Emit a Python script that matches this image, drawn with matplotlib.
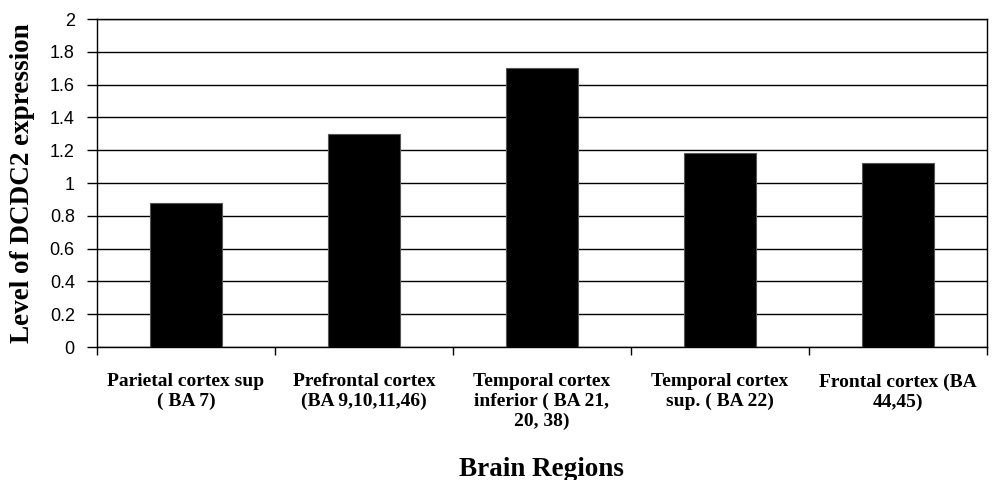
import matplotlib
matplotlib.use("Agg")
import matplotlib.pyplot as plt
import numpy as np

categories = [
    "Parietal cortex sup\n( BA 7)",
    "Prefrontal cortex\n(BA 9,10,11,46)",
    "Temporal cortex\ninferior ( BA 21,\n20, 38)",
    "Temporal cortex\nsup. ( BA 22)",
    "Frontal cortex (BA\n44,45)",
]
values = [0.88, 1.30, 1.70, 1.18, 1.12]
yticks = [0, 0.2, 0.4, 0.6, 0.8, 1, 1.2, 1.4, 1.6, 1.8, 2]
ytick_labels = ["0", "0.2", "0.4", "0.6", "0.8", "1", "1.2", "1.4", "1.6", "1.8", "2"]

fig = plt.figure(figsize=(9.95, 4.8), dpi=100)
ax = fig.add_axes([97/995, 1 - 347/480, (987-97)/995, (347-19)/480])

x = np.arange(len(categories))
ax.set_axisbelow(True)
ax.yaxis.grid(True, color="black", linewidth=1.0)
ax.bar(x, values, width=0.4, color="black", edgecolor="#555555", linewidth=0.8, zorder=3)

ax.set_xlim(-0.5, len(categories) - 0.5)
ax.set_ylim(0, 2)
ax.set_yticks(yticks)
ax.set_yticklabels(ytick_labels, fontfamily="Liberation Sans", fontsize=13)
ax.tick_params(axis="y", direction="out", length=7, width=1, pad=9, colors="black")

ax.set_xticks(x)
ax.set_xticklabels(categories, fontfamily="Liberation Serif", fontweight="bold",
                   fontsize=14, linespacing=1.2, va="top", ha="center")
ax.tick_params(axis="x", which="major", length=0, pad=19)
ax.set_xticks(np.arange(-0.5, len(categories), 1.0), minor=True)
ax.tick_params(axis="x", which="minor", direction="out", length=6, width=1, colors="black")

for s in ["left", "bottom", "right", "top"]:
    ax.spines[s].set_color("black")
    ax.spines[s].set_linewidth(1.0)

fig.text(23/995, 1 - 183/480, "Level of DCDC2 expression", rotation=90,
         ha="center", va="center", fontfamily="Liberation Serif",
         fontweight="bold", fontsize=19.5)
fig.text(541/995, 1 - 469/480, "Brain Regions", ha="center", va="center",
         fontfamily="Liberation Serif", fontweight="bold", fontsize=19.5)

fig.savefig("out.png", dpi=100, facecolor="white")
